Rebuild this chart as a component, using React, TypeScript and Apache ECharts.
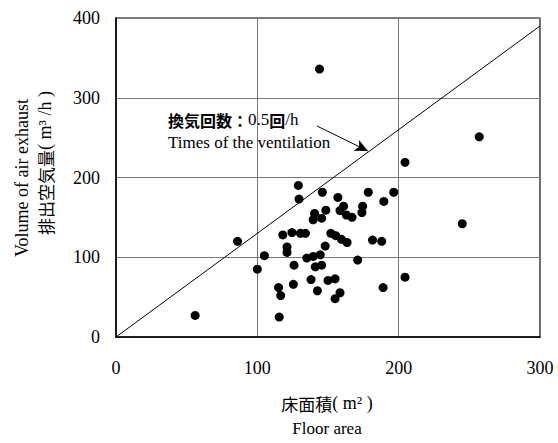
import React, { useEffect, useRef } from "react";
import * as echarts from "echarts";

const floorArea = [56, 86, 100, 105, 115, 116.5, 115.5, 118, 124.5, 130.5, 134, 121, 121, 126, 125.5, 129, 129.5, 135, 139.5, 144.5, 141, 145.5, 138, 150, 155, 142.5, 158.5, 155, 146, 157, 178.5, 196.5, 189.5, 174.5, 174, 161, 158.5, 163, 167, 148.5, 140.5, 139.5, 145.5, 152, 155.5, 159.5, 163.5, 148, 181.5, 188, 171, 189, 204.5, 204.5, 245, 257, 144];
const exhaustVolume = [27, 120, 85, 102, 62, 52, 25, 128, 131, 130, 130, 113, 106, 90, 66, 190, 173, 99, 101, 103, 88, 90, 72, 71, 73, 58, 55.5, 48, 181.5, 175, 181.5, 181.5, 170, 164, 156, 164, 158.5, 153, 150, 159, 155, 147, 149, 130, 127, 122.5, 118.5, 114, 121.5, 120, 96.5, 62, 75, 219, 142, 251, 336];
const refLineX = [0, 300];
const refSlope = 1.3; // 0.5 回/h × 2.6 m ceiling
const xTicks = [0, 300, 100];
const yTicks = [0, 400, 100];

const SERIF = "Liberation Serif";
const JP = "Noto Sans CJK JP";

export default function App() {
  const ref = useRef<HTMLDivElement>(null);
  useEffect(() => {
    document.body.style.margin = "0";
    const chart = echarts.init(ref.current!, null, { renderer: "svg" });
    const scatter = floorArea.map((x, i) => [x, exhaustVolume[i]]);
    const line = refLineX.map((x) => [x, x * refSlope]);
    chart.setOption({
      animation: false,
      backgroundColor: "#fff",
      textStyle: { fontFamily: SERIF },
      grid: { left: 116, top: 18, width: 424, height: 319, show: true, borderColor: "#000", borderWidth: 1.2 },
      xAxis: {
        type: "value", min: xTicks[0], max: xTicks[1], interval: xTicks[2],
        axisLine: { show: true, lineStyle: { color: "#000", width: 1.5 } },
        axisTick: { show: false },
        splitLine: { show: true, lineStyle: { color: "#777", width: 1 } },
        axisLabel: { color: "#000", fontFamily: SERIF, fontSize: 18, margin: 22 },
      },
      yAxis: {
        type: "value", min: yTicks[0], max: yTicks[1], interval: yTicks[2],
        axisLine: { show: true, lineStyle: { color: "#000", width: 1.5 } },
        axisTick: { show: false },
        splitLine: { show: true, lineStyle: { color: "#777", width: 1 } },
        axisLabel: { color: "#000", fontFamily: SERIF, fontSize: 18, margin: 16 },
      },
      series: [
        {
          type: "line", data: line, symbol: "none",
          lineStyle: { color: "#000", width: 1 }, z: 1,
          markLine: {
            silent: true, animation: false,
            symbol: ["none", "arrow"], symbolSize: [9, 13],
            lineStyle: { color: "#000", width: 1, type: "solid" },
            label: { show: false },
            data: [[{ x: 317, y: 126 }, { x: 368, y: 151 }]],
          },
        },
        {
          type: "scatter", data: scatter, symbol: "circle", symbolSize: 9,
          itemStyle: { color: "#000", opacity: 1 }, z: 3,
        },
      ],
      graphic: [
        {
          type: "text", left: 168, top: 111,
          style: {
            text: "{j|換気回数：}{r|0.5}{j|回}{r|/h}",
            rich: {
              j: { fontFamily: JP, fontSize: 16, fill: "#000", fontWeight: "bold" },
              r: { fontFamily: SERIF, fontSize: 17, fill: "#000" },
            },
          },
        },
        {
          type: "text", left: 168, top: 134,
          style: { text: "Times of the ventilation", fontFamily: SERIF, fontSize: 17, fill: "#000" },
        },
        {
          type: "text", x: 22, y: 178, rotation: Math.PI / 2,
          style: { text: "Volume of air exhaust", fontFamily: SERIF, fontSize: 18, fill: "#000", align: "center", verticalAlign: "middle" },
        },
        {
          type: "text", x: 45, y: 163, rotation: Math.PI / 2,
          style: {
            text: "{j|排出空気量}{r|( m³ /h )}", align: "center", verticalAlign: "middle",
            rich: {
              j: { fontFamily: JP, fontSize: 17, fill: "#000" },
              r: { fontFamily: SERIF, fontSize: 18, fill: "#000" },
            },
          },
        },
        {
          type: "text", x: 327, y: 403,
          style: {
            text: "{j|床面積}{r|( m² )}", align: "center", verticalAlign: "middle",
            rich: {
              j: { fontFamily: JP, fontSize: 17, fill: "#000" },
              r: { fontFamily: SERIF, fontSize: 18, fill: "#000" },
            },
          },
        },
        {
          type: "text", x: 327, y: 428,
          style: { text: "Floor area", fontFamily: SERIF, fontSize: 17, fill: "#000", align: "center", verticalAlign: "middle" },
        },
      ],
    });
    return () => chart.dispose();
  }, []);
  return <div ref={ref} style={{ width: 558, height: 443 }} />;
}
